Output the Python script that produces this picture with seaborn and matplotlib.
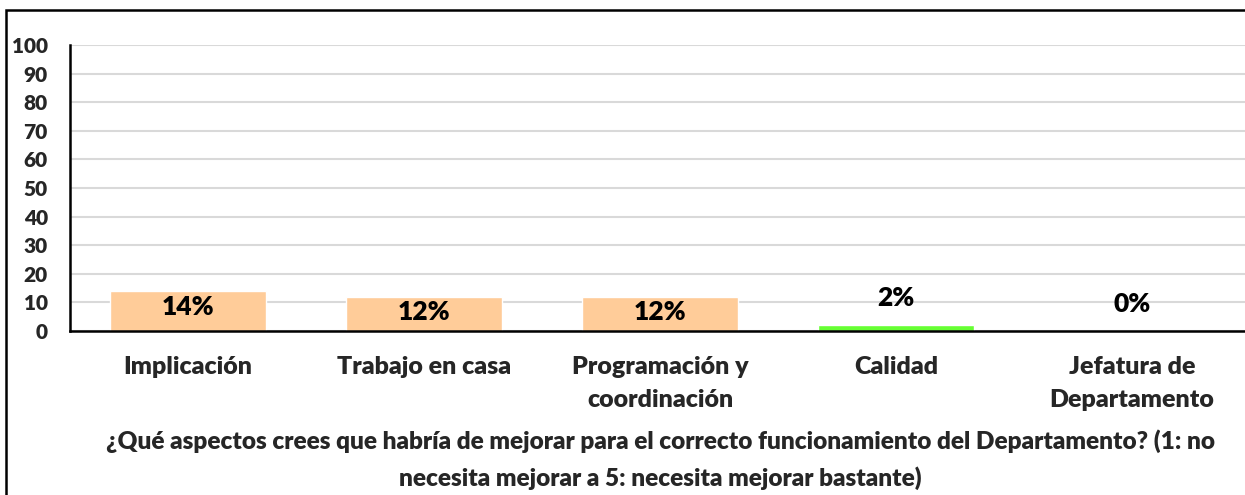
import matplotlib
matplotlib.use("Agg")
import matplotlib.pyplot as plt
import seaborn as sns
import pandas as pd
from matplotlib.patches import Rectangle

categories = ["Implicación", "Trabajo en casa", "Programación y\ncoordinación", "Calidad", "Jefatura de\nDepartamento"]
values = [14, 12, 12, 2, 0]
bar_colors = ["#FFCC99", "#FFCC99", "#FFCC99", "#66FF33", "#FFCC99"]
yticks = [0, 10, 20, 30, 40, 50, 60, 70, 80, 90, 100]
title = ("¿Qué aspectos crees que habría de mejorar para el correcto funcionamiento del Departamento? (1: no\n"
         "necesita mejorar a 5: necesita mejorar bastante)")

sns.set_theme(style="white")
plt.rcParams["font.family"] = ["Lato", "DejaVu Sans"]
plt.rcParams["font.weight"] = "bold"

df = pd.DataFrame({"cat": categories, "val": values})

fig = plt.figure(figsize=(12.45, 4.95), dpi=100)
ax = fig.add_axes([70 / 1245, 164 / 495, 1180 / 1245, 286 / 495])

sns.barplot(data=df, x="cat", y="val", hue="cat", palette=dict(zip(categories, bar_colors)),
            width=0.665, legend=False, ax=ax, saturation=1, zorder=2)

ax.set_ylim(0, 100)
ax.set_xlim(-0.5, 4.5)
ax.set_yticks(yticks)
ax.yaxis.grid(True, color="#d9d9d9", linewidth=1.5, zorder=0)
ax.set_axisbelow(True)
for s in ["top", "right"]:
    ax.spines[s].set_visible(False)
for s in ["left", "bottom"]:
    ax.spines[s].set_color("black")
    ax.spines[s].set_linewidth(1.8)
ax.tick_params(axis="y", length=0, pad=16, labelsize=15)
ax.tick_params(axis="x", length=0, pad=18, labelsize=18)
for lbl in ax.get_xticklabels() + ax.get_yticklabels():
    lbl.set_fontweight("heavy")
    lbl.set_linespacing(1.6)
ax.set_ylabel("")
ax.set_xlabel(title, fontsize=17.6, fontweight="heavy", labelpad=13, linespacing=1.7)

for i, v in enumerate(values):
    y = v - 5.5 if v > 5 else v + 9.5
    ax.text(i, y, f"{v}%", ha="center", va="center", fontsize=19, fontweight="heavy", color="black")

fig.add_artist(Rectangle((6 / 1245, -0.1), 1.2, (485 / 495) + 0.1, transform=fig.transFigure,
                         fill=False, edgecolor="black", linewidth=1.8))

fig.savefig("out.png", dpi=100)
